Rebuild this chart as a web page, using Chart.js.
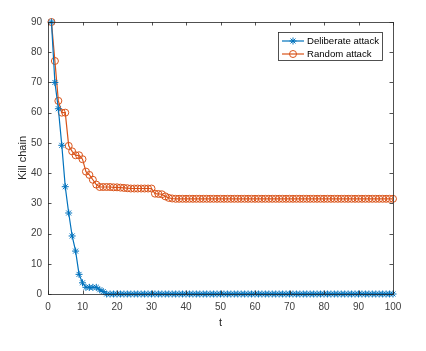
<!DOCTYPE html>
<html>
<head>
<meta charset="utf-8">
<script src="https://cdn.jsdelivr.net/npm/chart.js@4.4.1/dist/chart.umd.min.js"></script>
<style>
html,body{margin:0;padding:0;background:#fff;}
#wrap{width:426px;height:351px;}
</style>
</head>
<body>
<div id="wrap"><canvas id="c" width="426" height="351"></canvas></div>
<script>
const tValues = [1,2,3,4,5,6,7,8,9,10,11,12,13,14,15,16,17,18,19,20,21,22,23,24,25,26,27,28,29,30,31,32,33,34,35,36,37,38,39,40,41,42,43,44,45,46,47,48,49,50,51,52,53,54,55,56,57,58,59,60,61,62,63,64,65,66,67,68,69,70,71,72,73,74,75,76,77,78,79,80,81,82,83,84,85,86,87,88,89,90,91,92,93,94,95,96,97,98,99,100];
const deliberateAttack = [90,70,61.3,49.2,35.5,26.8,19.2,14.2,6.5,3.7,2.2,2.2,2.2,2.2,1.4,0.8,0,0,0,0,0,0,0,0,0,0,0,0,0,0,0,0,0,0,0,0,0,0,0,0,0,0,0,0,0,0,0,0,0,0,0,0,0,0,0,0,0,0,0,0,0,0,0,0,0,0,0,0,0,0,0,0,0,0,0,0,0,0,0,0,0,0,0,0,0,0,0,0,0,0,0,0,0,0,0,0,0,0,0,0];
const randomAttack = [90,77.1,63.9,60,60,49,47.2,45.9,45.9,44.6,40.5,39.4,37.8,36.2,35.4,35.4,35.4,35.4,35.3,35.3,35.2,35.1,35.0,34.9,34.9,34.9,34.9,34.9,34.9,34.9,33.2,33.1,33.0,32.3,31.8,31.6,31.5,31.5,31.5,31.5,31.5,31.5,31.5,31.5,31.5,31.5,31.5,31.5,31.5,31.5,31.5,31.5,31.5,31.5,31.5,31.5,31.5,31.5,31.5,31.5,31.5,31.5,31.5,31.5,31.5,31.5,31.5,31.5,31.5,31.5,31.5,31.5,31.5,31.5,31.5,31.5,31.5,31.5,31.5,31.5,31.5,31.5,31.5,31.5,31.5,31.5,31.5,31.5,31.5,31.5,31.5,31.5,31.5,31.5,31.5,31.5,31.5,31.5,31.5,31.5];
const seriesNames = ['Deliberate attack','Random attack'];
const xTicks = [0,10,20,30,40,50,60,70,80,90,100];
const yTicks = [0,10,20,30,40,50,60,70,80,90];

const BLUE = '#0072BD';
const ORANGE = '#D95319';
const AXIS = '#262626';
const FONT = 'Liberation Sans, Arial, Helvetica, sans-serif';

const toXY = arr => tValues.map((t,i) => ({x:t, y:arr[i]}));

const boxPlugin = {
  id: 'matlabBox',
  afterDatasetsDraw(chart) {
    const {ctx, chartArea:a, scales:{x, y}} = chart;
    ctx.save();
    ctx.strokeStyle = AXIS;
    ctx.lineWidth = 0.8;
    ctx.strokeRect(Math.round(a.left)+0.5, Math.round(a.top)+0.5, Math.round(a.right-a.left), Math.round(a.bottom-a.top));
    ctx.beginPath();
    const tl = 3.5;
    xTicks.forEach(v => {
      const px = Math.round(x.getPixelForValue(v))+0.5;
      ctx.moveTo(px, a.bottom); ctx.lineTo(px, a.bottom - tl);
      ctx.moveTo(px, a.top); ctx.lineTo(px, a.top + tl);
    });
    yTicks.forEach(v => {
      const py = Math.round(y.getPixelForValue(v))+0.5;
      ctx.moveTo(a.left, py); ctx.lineTo(a.left + tl, py);
      ctx.moveTo(a.right, py); ctx.lineTo(a.right - tl, py);
    });
    ctx.stroke();

    // legend
    const lx = 278.5, ly = 32.5, lw = 104, lh = 28;
    ctx.fillStyle = '#fff';
    ctx.fillRect(lx, ly, lw, lh);
    ctx.strokeStyle = '#262626';
    ctx.lineWidth = 0.8;
    ctx.strokeRect(lx, ly, lw, lh);
    const rows = [
      {name: seriesNames[0], color: BLUE, fill: BLUE, style: 'star', y: 41},
      {name: seriesNames[1], color: ORANGE, fill: 'rgba(0,0,0,0)', style: 'circle', y: 54}
    ];
    rows.forEach(r => {
      ctx.strokeStyle = r.color;
      ctx.lineWidth = 1.2;
      ctx.beginPath();
      ctx.moveTo(282, r.y); ctx.lineTo(304, r.y);
      ctx.stroke();
      ctx.lineWidth = 1;
      ctx.fillStyle = r.fill;
      Chart.helpers.drawPoint(ctx, {pointStyle: r.style, radius: 3.5, borderWidth: 1}, 293, r.y);
      ctx.fillStyle = '#000';
      ctx.font = '9.6px ' + FONT;
      ctx.textBaseline = 'middle';
      ctx.textAlign = 'left';
      ctx.fillText(r.name, 307, r.y + 0.5);
    });
    ctx.restore();
  }
};

new Chart(document.getElementById('c'), {
  type: 'line',
  data: {
    datasets: [
      {
        label: seriesNames[0],
        data: toXY(deliberateAttack),
        borderColor: BLUE,
        backgroundColor: BLUE,
        borderWidth: 1.2,
        pointStyle: 'star',
        pointRadius: 3.5,
        pointBorderWidth: 1,
        pointBorderColor: BLUE,
        pointBackgroundColor: BLUE,
        tension: 0,
        clip: false
      },
      {
        label: seriesNames[1],
        data: toXY(randomAttack),
        borderColor: ORANGE,
        backgroundColor: 'rgba(0,0,0,0)',
        borderWidth: 1.2,
        pointStyle: 'circle',
        pointRadius: 3.5,
        pointBorderWidth: 1,
        pointBorderColor: ORANGE,
        pointBackgroundColor: 'rgba(0,0,0,0)',
        tension: 0,
        clip: false
      }
    ]
  },
  options: {
    responsive: false,
    animation: false,
    devicePixelRatio: 1,
    layout: {padding: {left: 0, right: 33, top: 22, bottom: 18}},
    plugins: {legend: {display: false}, tooltip: {enabled: false}},
    scales: {
      x: {
        type: 'linear',
        min: 0, max: 100,
        afterBuildTicks: s => { s.ticks = xTicks.map(v => ({value: v})); },
        afterFit: s => { s.height = 39; },
        grid: {display: false, drawTicks: false},
        border: {display: false},
        ticks: {color: '#404040', padding: 7, maxRotation: 0, font: {size: 10, family: FONT}},
        title: {display: true, text: 't', color: '#262626', padding: {top: 0, bottom: 3}, font: {size: 11, family: FONT}}
      },
      y: {
        type: 'linear',
        min: 0, max: 90,
        afterBuildTicks: s => { s.ticks = yTicks.map(v => ({value: v})); },
        afterFit: s => { s.width = 48; },
        grid: {display: false, drawTicks: false},
        border: {display: false},
        ticks: {color: '#404040', padding: 6, font: {size: 10, family: FONT}},
        title: {display: true, text: 'Kill chain', color: '#262626', padding: {top: 16, bottom: 0}, font: {size: 11, family: FONT}}
      }
    }
  },
  plugins: [boxPlugin]
});
</script>
</body>
</html>
